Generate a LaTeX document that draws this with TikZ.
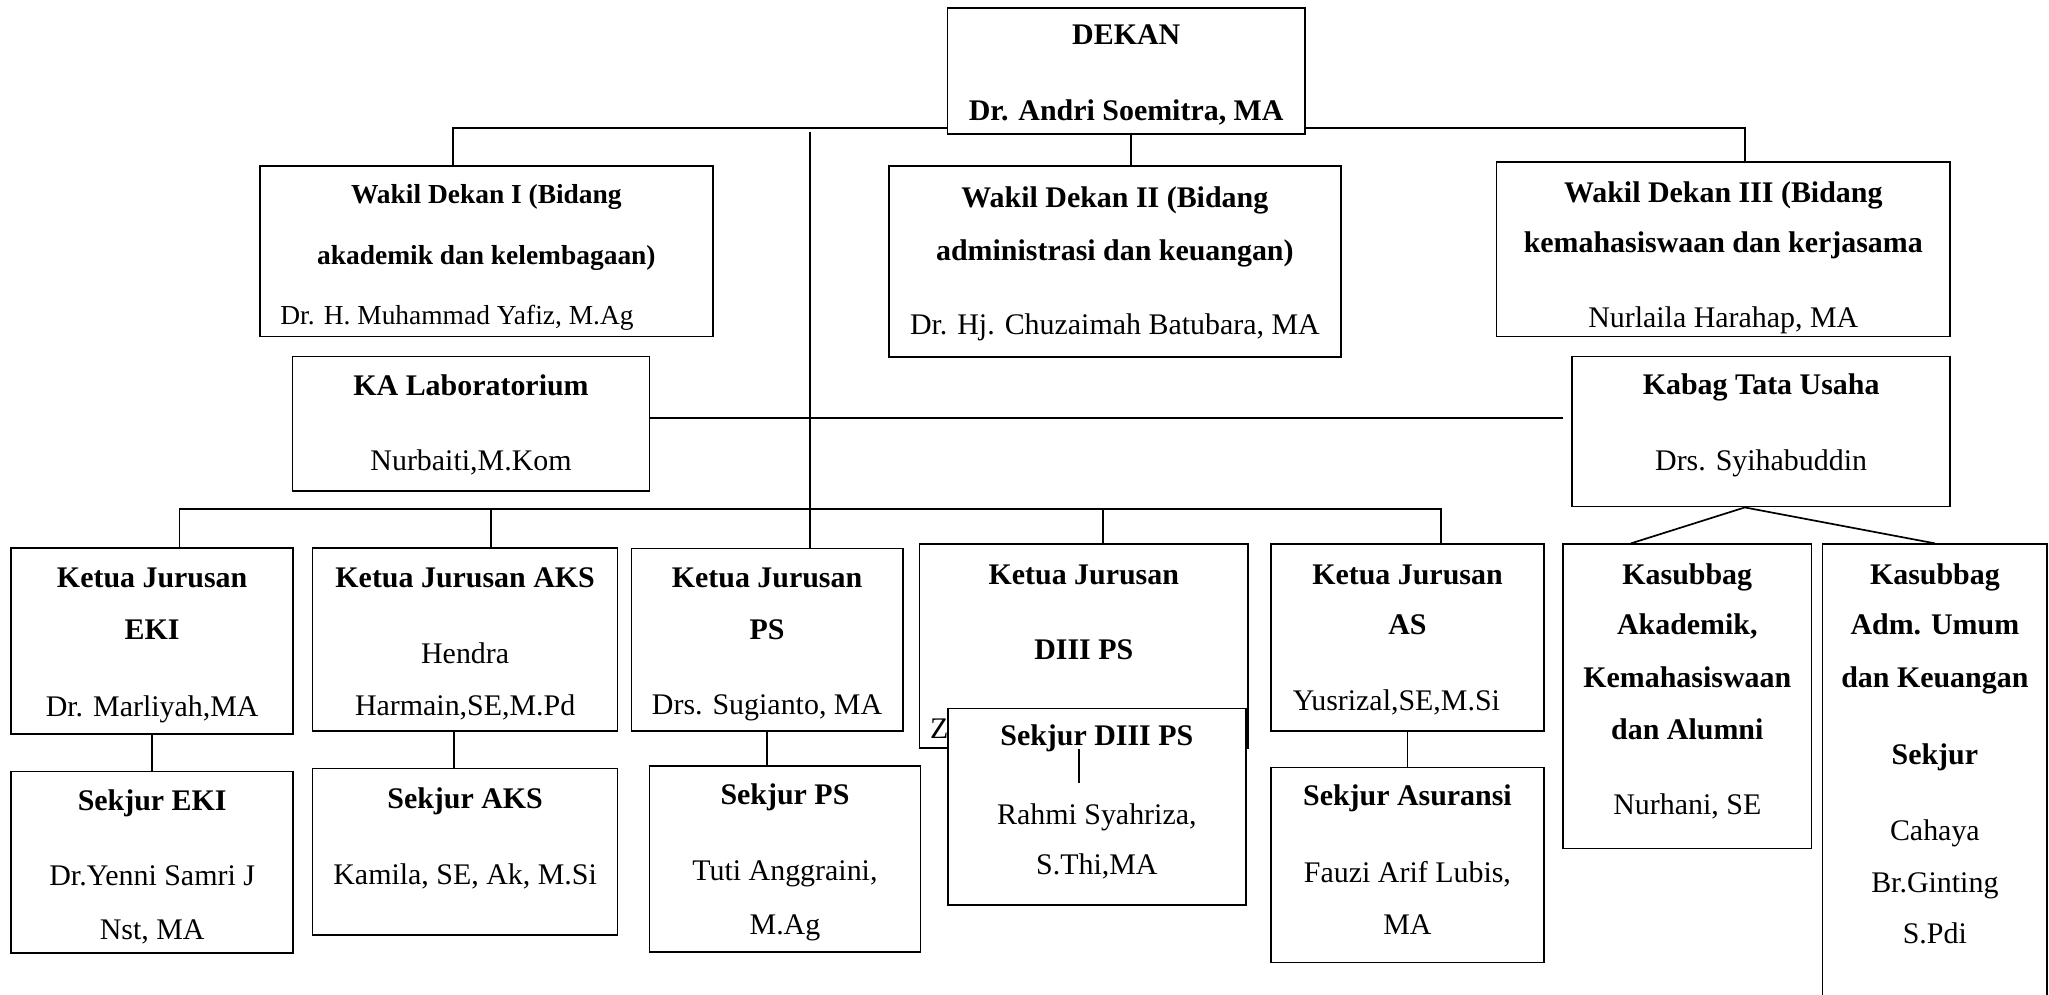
\documentclass[tikz,border=0pt]{standalone}
\usepackage{fontspec}
\setmainfont{Liberation Serif}
\usepackage{tikz}
\usetikzlibrary{positioning, backgrounds}

\begin{document}
\begin{tikzpicture}[
        x=1pt, y=-1pt,
        unit/.style={rectangle, draw=black, line width=1.3pt, fill=white, anchor=north west, inner sep=0pt, font={\fontsize{22.9pt}{39.5pt}\selectfont}},
        link/.style={draw=black, line width=1.3pt}
    ]
        \useasboundingbox (0,0) rectangle (1568,761.4);
        \clip (0,0) rectangle (1568,761.4);

        % --- PIMPINAN ---
        \node[unit] (dekan) at (724.4,5.6) {\parbox[t][96.4pt][t]{273.6pt}{\centering\rule{0pt}{27.5pt}\textbf{DEKAN}\\[19.2pt]\textbf{Dr. Andri Soemitra, MA}}};

        \node[unit, font={\fontsize{21pt}{39.5pt}\selectfont}] (wd1) at (198.3,126.3) {\parbox[t][130.6pt][t]{346.5pt}{\centering\rule{0pt}{28.6pt}\textbf{Wakil Dekan I (Bidang}\\[7.7pt]\textbf{akademik dan kelembagaan)}\\[6.4pt]Dr. H. Muhammad Yafiz, M.Ag\hspace*{45pt}\mbox{}}};
        \node[unit] (wd2) at (679.7,126.3) {\parbox[t][146.1pt][t]{345.6pt}{\centering\rule{0pt}{31.8pt}\textbf{Wakil Dekan II (Bidang}\\[1.3pt]\textbf{administrasi dan keuangan)}\\[16.6pt]Dr. Hj. Chuzaimah Batubara, MA}};
        \node[unit] (wd3) at (1144.6,123.2) {\parbox[t][133.7pt][t]{347pt}{\centering\rule{0pt}{31.1pt}\textbf{Wakil Dekan III (Bidang}\\[-1.3pt]\textbf{kemahasiswaan dan kerjasama}\\[18pt]Nurlaila Harahap, MA}};

        % --- LAB & TATA USAHA ---
        \node[unit] (kalab) at (223.2,272.2) {\parbox[t][102.8pt][t]{273.2pt}{\centering\rule{0pt}{30pt}\textbf{KA Laboratorium}\\[17.9pt]Nurbaiti,M.Kom}};
        \node[unit] (kabag) at (1202.5,272.2) {\parbox[t][114.8pt][t]{289.1pt}{\centering\rule{0pt}{28.7pt}\textbf{Kabag Tata Usaha}\\[19.2pt]Drs. Syihabuddin}};

        % --- KETUA JURUSAN ---
        \node[unit] (kjeki) at (7.9,418.7) {\parbox[t][142.1pt][t]{215.8pt}{\centering\rule{0pt}{30.2pt}\textbf{Ketua Jurusan}\\\textbf{EKI}\\[19.4pt]Dr. Marliyah,MA}};
        \node[unit] (kjaks) at (238.6,418.7) {\parbox[t][140.3pt][t]{233.4pt}{\centering\rule{0pt}{30.2pt}\textbf{Ketua Jurusan AKS}\\[19pt]Hendra\\Harmain,SE,M.Pd}};
        \node[unit] (kjps) at (482.5,419.1) {\parbox[t][139.5pt][t]{207.7pt}{\centering\rule{0pt}{29.8pt}\textbf{Ketua Jurusan}\\\textbf{PS}\\[18.4pt]Drs. Sugianto, MA}};
        \node[unit] (kjdiii) at (703.1,415.8) {\parbox[t][156.2pt][t]{251.2pt}{\centering\rule{0pt}{30.5pt}\textbf{Ketua Jurusan}\\[17.9pt]\textbf{DIII PS}\\[21.4pt]\makebox[235pt][l]{Z}}};
        \node[unit] (kjas) at (971.8,415.8) {\parbox[t][142.8pt][t]{209.2pt}{\centering\rule{0pt}{30.5pt}\textbf{Ketua Jurusan}\\[-1.2pt]\textbf{AS}\\[19.2pt]Yusrizal,SE,M.Si\hspace*{16.8pt}\mbox{}}};

        % --- KASUBBAG ---
        \node[unit] (kasak) at (1195.5,415.8) {\parbox[t][232.9pt][t]{190.1pt}{\centering\rule{0pt}{30.5pt}\textbf{Kasubbag}\\[-1.2pt]\textbf{Akademik,}\\[1.3pt]\textbf{Kemahasiswaan}\\\textbf{dan Alumni}\\[17.9pt]Nurhani, SE}};
        \node[unit] (kasadm) at (1394,415.8) {\parbox[t][384.2pt][t]{172pt}{\centering\rule{0pt}{30.5pt}\textbf{Kasubbag}\\[-1.2pt]\textbf{Adm. Umum}\\[1.3pt]\textbf{dan Keuangan}\\[19.2pt]\textbf{Sekjur}\\[19.1pt]Cahaya\\Br.Ginting\\S.Pdi}};

        % --- SEKJUR ---
        \node[unit] (sjeki) at (7.9,589.7) {\parbox[t][138.8pt][t]{215.8pt}{\centering\rule{0pt}{30.1pt}\textbf{Sekjur EKI}\\[17.9pt]Dr.Yenni Samri J\\[1.3pt]Nst, MA}};
        \node[unit] (sjaks) at (238.6,587.4) {\parbox[t][127.3pt][t]{233.4pt}{\centering\rule{0pt}{30.6pt}\textbf{Sekjur AKS}\\[18.4pt]Kamila, SE, Ak, M.Si}};
        \node[unit] (sjps) at (496.3,585.4) {\parbox[t][142.3pt][t]{207.5pt}{\centering\rule{0pt}{29.2pt}\textbf{Sekjur PS}\\[19.2pt]Tuti Anggraini,\\[1.4pt]M.Ag}};
        \node[unit] (sjdiii) at (724.7,541.5) {\parbox[t][150.3pt][t]{228pt}{\centering\rule{0pt}{28.5pt}\textbf{Sekjur DIII PS}\\[20.5pt]Rahmi Syahriza,\\[-1.3pt]S.Thi,MA}};
        \node[unit] (sjas) at (971.8,586.7) {\parbox[t][149.2pt][t]{209.2pt}{\centering\rule{0pt}{29.3pt}\textbf{Sekjur Asuransi}\\[19.1pt]Fauzi Arif Lubis,\\MA}};

        % --- GARIS ---
        \begin{scope}[on background layer]
            \coordinate (busl) at (346.8,98.2);
            \coordinate (busr) at (1335.2,98.2);
            \draw[link] (busl |- wd1.north) -- (busl) -- (busr) -- (busr |- wd3.north);
        \end{scope}
        \coordinate (dk) at ([xshift=3.5pt]dekan.south);
        \draw[link] (dk) -- (dk |- wd2.north);

        \coordinate (spine) at (619.6,100.8);
        \draw[link] (spine) -- (spine |- kjps.north);
        \coordinate (labrow) at (1196,320.1);
        \draw[link] (kalab.east |- labrow) -- (labrow);

        \coordinate (jurl) at (137.4,389.5);
        \coordinate (jurr) at (1102.5,389.5);
        \draw[link] (jurl |- kjeki.north) -- (jurl) -- (jurr) -- (jurr |- kjas.north);
        \coordinate (aksdrop) at (376,389.5);
        \draw[link] (aksdrop) -- (aksdrop |- kjaks.north);
        \coordinate (diiidrop) at (844.2,389.5);
        \draw[link] (diiidrop) -- (diiidrop |- kjdiii.north);

        \draw[link] (kjeki.south) -- (sjeki.north);
        \coordinate (aksdown) at (347.4,0);
        \draw[link] (kjaks.south -| aksdown) -- (sjaks.north -| aksdown);
        \draw[link] (kjps.south) -- (kjps.south |- sjps.north);
        \draw[link] (kjas.south) -- (sjas.north);
        \coordinate (diiiend) at (825.5,599.4);
        \draw[link] (kjdiii.south -| diiiend) -- (diiiend);

        \coordinate (akadx) at (1248.1,0);
        \draw[link] (kasak.north -| akadx) -- (kabag.south -| busr) -- (kasadm.north);

\end{tikzpicture}
\end{document}
